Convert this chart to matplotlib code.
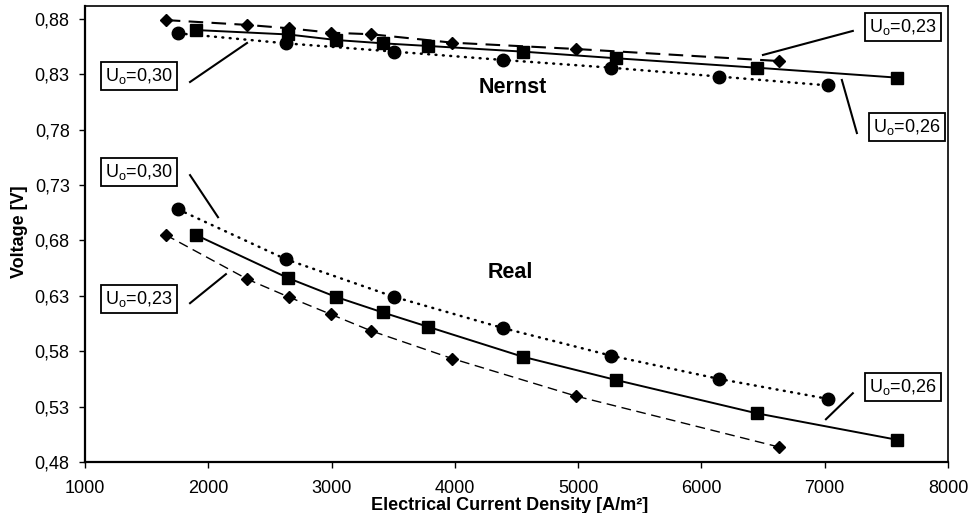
import matplotlib
matplotlib.use("Agg")
import matplotlib.pyplot as plt
from matplotlib.ticker import FuncFormatter

plt.rcParams['font.family'] = ['Liberation Sans', 'DejaVu Sans']
plt.rcParams['mathtext.fontset'] = 'custom'
plt.rcParams['mathtext.rm'] = 'Liberation Sans'
plt.rcParams['mathtext.it'] = 'Liberation Sans:italic'
plt.rcParams['mathtext.bf'] = 'Liberation Sans:bold'

# ---- data (current density in A/m^2, voltage in V) ----
cur_030 = [1757, 2630, 3510, 4388, 5267, 6143, 7026]
nernst_030 = [0.867, 0.858, 0.8505, 0.843, 0.836, 0.828, 0.820]
real_030 = [0.708, 0.663, 0.629, 0.601, 0.576, 0.555, 0.537]

cur_026 = [1899, 2649, 3037, 3416, 3785, 4552, 5309, 6447, 7590]
nernst_026 = [0.870, 0.866, 0.861, 0.858, 0.8556, 0.8505, 0.8445, 0.836, 0.827]
real_026 = [0.685, 0.646, 0.629, 0.615, 0.602, 0.575, 0.554, 0.524, 0.500]

cur_023 = [1655, 2318, 2652, 2993, 3321, 3978, 4980, 6630]
nernst_023 = [0.879, 0.8746, 0.8716, 0.8676, 0.8662, 0.8586, 0.8529, 0.842]
real_023 = [0.685, 0.645, 0.629, 0.6134, 0.5984, 0.5734, 0.5396, 0.4935]

x_ticks = [1000, 2000, 3000, 4000, 5000, 6000, 7000, 8000]
y_ticks = [0.48, 0.53, 0.58, 0.63, 0.68, 0.73, 0.78, 0.83, 0.88]

label_030 = r'U$_\mathregular{o}$=0,30'
label_026 = r'U$_\mathregular{o}$=0,26'
label_023 = r'U$_\mathregular{o}$=0,23'

# ---- figure ----
fig = plt.figure(figsize=(9.7, 5.13), dpi=100)
ax = fig.add_axes([85/970, 1-462/513, (948-85)/970, (462-6)/513])

dot_kw = dict(color='black', lw=1.8, dashes=(0.35, 2.6), dash_capstyle='round')
# Nernst
ax.plot(cur_030, nernst_030, **dot_kw, marker='o', ms=9, mfc='black', mec='black', zorder=3)
ax.plot(cur_026, nernst_026, color='black', lw=1.4, marker='s', ms=9, mfc='black', mec='black', zorder=3)
ax.plot(cur_023, nernst_023, color='black', lw=1.5, dashes=(7, 4), marker='D', ms=6, mfc='black', mec='black', zorder=3)
# Real
ax.plot(cur_030, real_030, **dot_kw, marker='o', ms=9, mfc='black', mec='black', zorder=3)
ax.plot(cur_026, real_026, color='black', lw=1.4, marker='s', ms=9, mfc='black', mec='black', zorder=3)
ax.plot(cur_023, real_023, color='black', lw=1.0, dashes=(7, 4), marker='D', ms=6, mfc='black', mec='black', zorder=3)

ax.set_xlim(1000, 8000)
ax.set_ylim(0.48, 0.8917)
ax.set_xticks(x_ticks)
ax.set_yticks(y_ticks)
ax.yaxis.set_major_formatter(FuncFormatter(lambda v, p: f"{v:.2f}".replace('.', ',')))
ax.tick_params(axis='both', direction='out', length=4, width=1, labelsize=13, colors='black')
ax.tick_params(axis='y', pad=7)
ax.tick_params(axis='x', pad=9)

for s in ['left', 'bottom']:
    ax.spines[s].set_linewidth(1.6)
for s in ['top', 'right']:
    ax.spines[s].set_linewidth(1.2)

# group labels
ax.text(4471, 0.8177, 'Nernst', fontsize=15.5, fontweight='bold', ha='center', va='center')
ax.text(4447, 0.6514, 'Real', fontsize=15.5, fontweight='bold', ha='center', va='center')

# callout boxes and leader lines
box = dict(boxstyle='square,pad=0.22', fc='white', ec='black', lw=1.3)
callouts = [
    (label_030, 1438, 0.8285, (1852, 2314), (0.8231, 0.8583)),
    (label_030, 1438, 0.7418, (1852, 2079), (0.739, 0.701)),
    (label_023, 1438, 0.627, (1852, 2143), (0.6234, 0.6496)),
    (label_023, 7634, 0.8728, (7228, 6499), (0.8692, 0.8475)),
    (label_026, 7667, 0.7824, (7139, 7261), (0.8249, 0.777)),
    (label_026, 7634, 0.5475, (7010, 7228), (0.5186, 0.5421)),
]
for txt, tx, ty, lx, ly in callouts:
    ax.text(tx, ty, txt, fontsize=13, ha='center', va='center', bbox=box, zorder=5)
    ax.plot(lx, ly, color='black', lw=1.5, zorder=4, clip_on=False)

fig.text(510/970, 1-506/513, 'Electrical Current Density [A/m²]', fontsize=13,
         fontweight='bold', ha='center', va='center')
fig.text(20/970, 1-232/513, 'Voltage [V]', fontsize=13, fontweight='bold',
         ha='center', va='center', rotation=90)

fig.savefig('out.png', dpi=100, facecolor='white')
